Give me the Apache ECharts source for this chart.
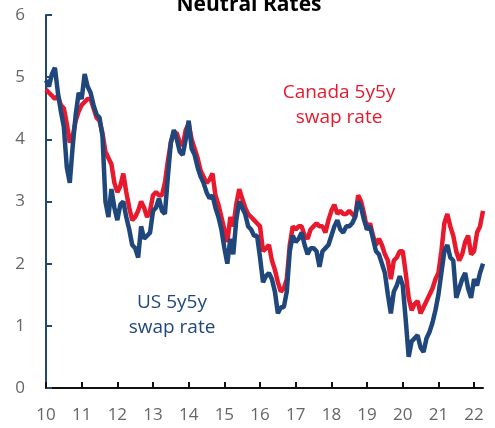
<!DOCTYPE html>
<html>
<head>
<meta charset="utf-8">
<script src="https://cdn.jsdelivr.net/npm/echarts@6/dist/echarts.min.js"></script>
<style>
  html, body { margin: 0; padding: 0; background: #fff; }
  #main { width: 495px; height: 428px; }
</style>
</head>
<body>
<div id="main"></div>
<script>
// monthly readings, Jan 2010 .. Apr 2022
var startYear = 10;
var xTicks = [10, 11, 12, 13, 14, 15, 16, 17, 18, 19, 20, 21, 22];
var yTicks = [0, 1, 2, 3, 4, 5, 6];

var usRate = [
  4.95, 4.85, 5.05, 5.15, 4.75, 4.45, 4.2, 3.55, 3.3, 3.9, 4.4, 4.75,
  4.65, 5.05, 4.85, 4.75, 4.55, 4.4, 4.35, 4.05, 3.0, 2.75, 3.2, 2.9,
  2.7, 2.95, 3.0, 2.75, 2.55, 2.3, 2.25, 2.1, 2.6, 2.4, 2.45, 2.5,
  2.85, 2.9, 3.05, 2.85, 2.8, 3.4, 3.95, 4.15, 4.0, 3.8, 3.75, 4.0,
  4.3, 3.85, 3.75, 3.55, 3.4, 3.3, 3.15, 3.05, 3.1, 2.9, 2.75, 2.55,
  2.25, 2.0, 2.4, 2.15, 2.7, 3.0, 2.9, 2.8, 2.6, 2.55, 2.45, 2.45,
  2.1, 1.7, 1.8, 1.85, 1.75, 1.55, 1.2, 1.3, 1.3, 1.55, 2.2, 2.45,
  2.35, 2.4, 2.5, 2.3, 2.15, 2.25, 2.25, 2.2, 1.95, 2.2, 2.25, 2.3,
  2.45, 2.6, 2.7, 2.55, 2.5, 2.6, 2.6, 2.65, 2.75, 3.0, 2.9, 2.7,
  2.55, 2.6, 2.4, 2.2, 2.15, 2.0, 1.85, 1.5, 1.2, 1.55, 1.65, 1.8,
  1.65, 1.1, 0.5, 0.75, 0.8, 0.85, 0.65, 0.58, 0.8, 0.9, 1.05, 1.25,
  1.5, 1.85, 2.2, 2.3, 2.1, 2.05, 1.45, 1.6, 1.75, 1.85, 1.6, 1.45,
  1.75, 1.65, 1.85, 2.0
];

var cadRate = [
  4.8, 4.75, 4.7, 4.65, 4.7, 4.55, 4.5, 4.25, 3.95, 4.05, 4.3, 4.45,
  4.55, 4.6, 4.65, 4.65, 4.5, 4.35, 4.3, 4.1, 3.8, 3.7, 3.6, 3.3,
  3.15, 3.25, 3.45, 3.15, 2.9, 2.7, 2.75, 2.85, 3.0, 2.9, 2.75, 2.85,
  3.1, 3.15, 3.1, 3.1, 3.3, 3.65, 3.95, 4.1, 4.1, 3.95, 3.9, 4.15,
  4.25, 4.0, 3.85, 3.7, 3.5, 3.4, 3.3, 3.35, 3.45, 3.1, 2.95, 2.75,
  2.55, 2.35, 2.75, 2.6, 2.95, 3.2, 3.05, 2.9, 2.8, 2.75, 2.7, 2.65,
  2.6, 2.2, 2.25, 2.3, 2.05, 1.9, 1.7, 1.55, 1.6, 1.75, 2.3, 2.6,
  2.55, 2.6, 2.6, 2.45, 2.4, 2.55, 2.6, 2.65, 2.6, 2.6, 2.5, 2.7,
  2.85, 2.95, 2.8, 2.85, 2.8, 2.8, 2.85, 2.8, 2.75, 3.1, 3.0, 2.8,
  2.55, 2.65, 2.45, 2.3, 2.4, 2.3, 2.15, 2.05, 1.75, 2.05, 2.1, 2.2,
  2.2, 1.85, 1.45, 1.25, 1.35, 1.4, 1.2, 1.3, 1.4, 1.5, 1.6, 1.75,
  1.85, 2.2, 2.65, 2.8, 2.6, 2.45, 2.2, 2.05, 2.15, 2.35, 2.45, 2.15,
  2.2, 2.5, 2.6, 2.85
];

var RED = '#e8192c';
var BLUE = '#1f477b';
var FONT = '"Open Sans", "Noto Sans", sans-serif';

// pair each reading with its month as a fraction of a year
function toPoints(values) {
  return values.map(function (v, i) { return [startYear + i / 12, v]; });
}

var chart = echarts.init(document.getElementById('main'));

var option = {
  animation: false,
  grid: { left: 46, right: 12, top: 15, bottom: 40 },
  graphic: [
    {
      type: 'text', x: 249, y: 5,
      style: { text: 'Neutral Rates', font: 'bold 21px ' + FONT, fill: '#000',
               align: 'center', verticalAlign: 'middle' }
    },
    {
      type: 'text', x: 339, y: 105,
      style: { text: 'Canada 5y5y\nswap rate', font: '19px ' + FONT, fill: RED,
               align: 'center', verticalAlign: 'middle', lineHeight: 25 }
    },
    {
      type: 'text', x: 172, y: 315,
      style: { text: 'US 5y5y\nswap rate', font: '19px ' + FONT, fill: BLUE,
               align: 'center', verticalAlign: 'middle', lineHeight: 25 }
    }
  ],
  xAxis: {
    type: 'value',
    min: 10,
    max: 22.25,
    splitLine: { show: false },
    axisLine: { lineStyle: { color: '#111', width: 2 } },
    axisTick: { inside: true, length: 6, customValues: xTicks, lineStyle: { color: '#111', width: 2 } },
    axisLabel: { customValues: xTicks, color: '#666', fontSize: 17, fontFamily: FONT, margin: 19 }
  },
  yAxis: {
    type: 'value',
    min: 0,
    max: 6,
    interval: 1,
    splitLine: { show: false },
    axisLine: { show: true, lineStyle: { color: BLUE, width: 2 } },
    axisTick: { show: true, inside: true, length: 6, lineStyle: { color: BLUE, width: 2 } },
    axisLabel: { color: '#666', fontSize: 17, fontFamily: FONT, margin: 21,
                 formatter: function (v) { return yTicks.indexOf(v) >= 0 ? String(v) : ''; } }
  },
  series: [
    {
      name: 'Canada 5y5y swap rate',
      type: 'line',
      data: toPoints(cadRate),
      showSymbol: false,
      lineStyle: { color: RED, width: 4.5 },
      z: 2
    },
    {
      name: 'US 5y5y swap rate',
      type: 'line',
      data: toPoints(usRate),
      showSymbol: false,
      lineStyle: { color: BLUE, width: 4.5 },
      z: 3
    }
  ]
};

chart.setOption(option);
</script>
</body>
</html>
